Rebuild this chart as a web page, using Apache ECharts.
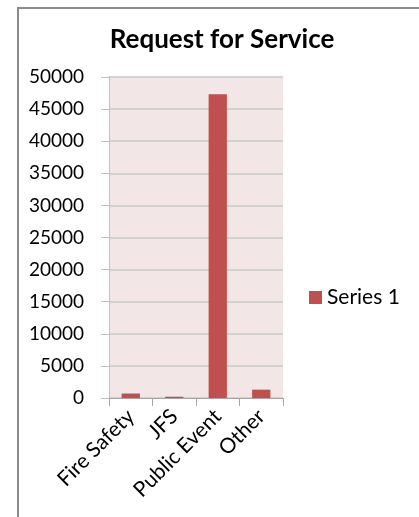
<!DOCTYPE html>
<html>
<head>
<meta charset="utf-8">
<script src="https://cdn.jsdelivr.net/npm/echarts@6/dist/echarts.min.js"></script>
<style>
  html, body { margin: 0; padding: 0; background: #fff; }
  #chart { width: 419px; height: 517px; }
</style>
</head>
<body>
<div id="chart"></div>
<script>
// Requests for service by category
const categories = ['Fire Safety', 'JFS', 'Public Event', 'Other'];
const seriesName = 'Series 1';
const seriesValues = [700, 200, 47300, 1300];
const yTicks = { min: 0, max: 50000, interval: 5000 };

const FONT = 'Lato, "Noto Sans", sans-serif';
const chart = echarts.init(document.getElementById('chart'), null, { renderer: 'canvas' });

chart.setOption({
  animation: false,
  backgroundColor: '#ffffff',
  graphic: [{
    type: 'rect',
    shape: { x: 18, y: 8, width: 600, height: 700 },
    style: { fill: 'none', stroke: '#8c8c8c', lineWidth: 2 },
    silent: true
  }],
  title: {
    text: 'Request for Service',
    left: 217, top: 22, textAlign: 'center',
    textStyle: { fontFamily: FONT, fontWeight: 'bold', fontSize: 26, color: '#000' }
  },
  legend: {
    data: [seriesName],
    orient: 'vertical',
    left: 304, top: 282,
    icon: 'rect', itemWidth: 13, itemHeight: 13, itemGap: 6,
    textStyle: { fontFamily: FONT, fontSize: 21, color: '#000' }
  },
  grid: {
    left: 109, right: 136, top: 77, bottom: 119,
    show: true, backgroundColor: '#f2e6e6', borderWidth: 0
  },
  xAxis: {
    type: 'category',
    data: categories,
    axisLine: { lineStyle: { color: '#a6a6a6', width: 1 } },
    axisTick: { show: true, length: 8, alignWithLabel: false, lineStyle: { color: '#a6a6a6' } },
    axisLabel: { rotate: 45, margin: 15, fontFamily: FONT, fontSize: 21, color: '#000' }
  },
  yAxis: {
    type: 'value',
    min: yTicks.min, max: yTicks.max, interval: yTicks.interval,
    axisLine: { show: true, lineStyle: { color: '#c0c0c0', width: 1 } },
    axisTick: { show: true, length: 8, lineStyle: { color: '#c0c0c0' } },
    splitLine: { lineStyle: { color: '#c8c8c8', width: 1.5 } },
    axisLabel: {
      margin: 25, fontFamily: FONT, fontSize: 19, color: '#000',
      formatter: (v) => String(v)
    }
  },
  series: [{
    name: seriesName,
    type: 'bar',
    data: seriesValues,
    barWidth: '42%',
    itemStyle: { color: '#c0504d' }
  }]
});
</script>
</body>
</html>
